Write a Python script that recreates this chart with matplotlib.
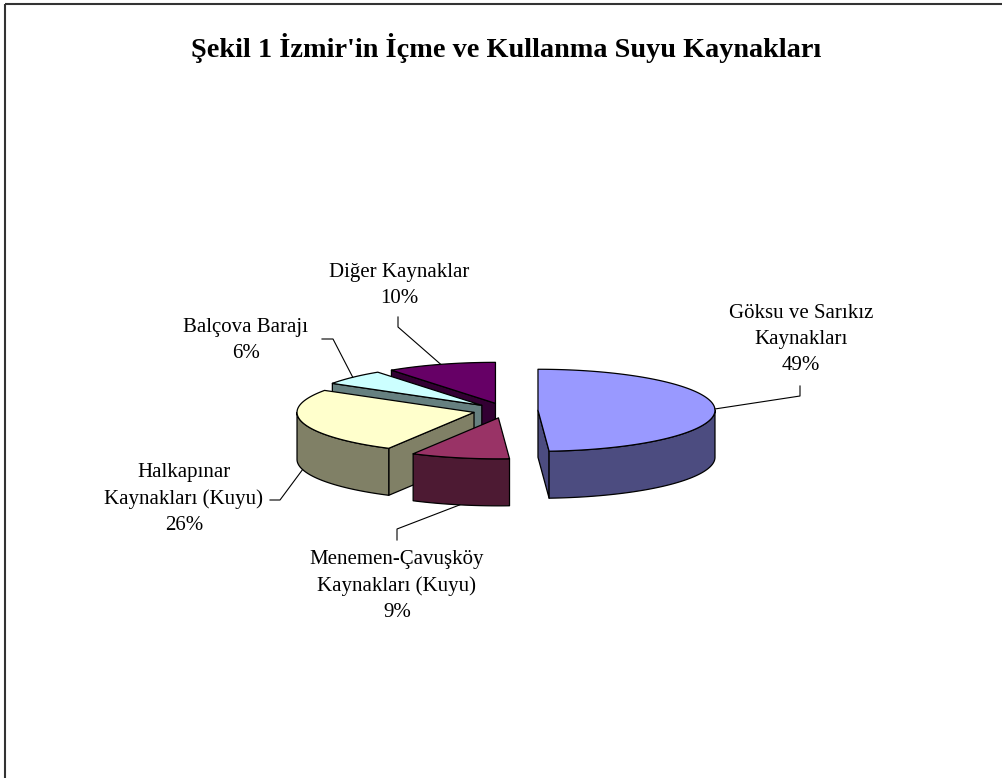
import matplotlib
matplotlib.use("Agg")
import matplotlib.pyplot as plt
from matplotlib.patches import Polygon
import numpy as np

# data
LABELS = [
    "Göksu ve Sarıkız\nKaynakları",
    "Menemen-Çavuşköy\nKaynakları (Kuyu)",
    "Halkapınar\nKaynakları (Kuyu)",
    "Balçova Barajı",
    "Diğer Kaynaklar",
]
SHARES = [49, 9, 26, 6, 10]

TOP_COLORS = ["#9999FF", "#993366", "#FFFFCC", "#CCFFFF", "#660066"]
SIDE_COLORS = ["#4C4C80", "#4D1A33", "#808066", "#668080", "#330033"]

# layout (pixels, y down)
CX, CY = 505.5, 410.5
RX, RY = 177.0, 41.0
DEPTH = 47.0
EXPLODE = 32.5

# label block centre and leader elbow points (elbow, end)
LABEL_POS = [(801, 339), (397, 586), (184, 499), (246, 340), (399, 285)]
LEADER = [
    [(800, 396), (800, 386)],
    [(397, 529), (397, 540)],
    [(280, 500), (270, 500)],
    [(333, 339), (322, 339)],
    [(398, 327), (398, 317)],
]

plt.rcParams["font.family"] = ["Liberation Serif", "DejaVu Serif"]


def ell(apex, phi_deg, dy=0.0):
    p = np.radians(phi_deg)
    return (apex[0] + RX * np.sin(p), apex[1] - RY * np.cos(p) + dy)


def draw_slice(ax, phi1, phi2, top, side):
    mid = np.radians((phi1 + phi2) / 2)
    apex = (CX + EXPLODE * np.sin(mid), CY - EXPLODE * np.cos(mid) * RY / RX)
    kw = dict(edgecolor="black", linewidth=0.9, joinstyle="round")

    # radial walls facing the viewer
    for phi, visible in ((phi1, np.sin(np.radians(phi1)) < -1e-6),
                         (phi2, np.sin(np.radians(phi2)) > 1e-6)):
        if visible:
            e = ell(apex, phi)
            pts = [apex, e, (e[0], e[1] + DEPTH), (apex[0], apex[1] + DEPTH)]
            ax.add_patch(Polygon(pts, closed=True, facecolor=side, **kw))

    # outer wall (front half of the ellipse)
    lo, hi = max(phi1, 90), min(phi2, 270)
    if hi > lo:
        angs = np.linspace(lo, hi, 120)
        upper = [ell(apex, a) for a in angs]
        lower = [ell(apex, a, DEPTH) for a in angs[::-1]]
        ax.add_patch(Polygon(upper + lower, closed=True, facecolor=side, **kw))

    # top face
    angs = np.linspace(phi1, phi2, 200)
    pts = [apex] + [ell(apex, a) for a in angs]
    ax.add_patch(Polygon(pts, closed=True, facecolor=top, **kw))

    anchor = ell(apex, np.degrees(mid), DEPTH if np.cos(mid) < 0 else 0.0)
    return anchor


def main():
    fig = plt.figure(figsize=(10.02, 7.78), dpi=100)
    ax = fig.add_axes([0, 0, 1, 1])
    ax.set_xlim(0, 1002)
    ax.set_ylim(778, 0)
    ax.axis("off")

    # chart frame (top and left edges visible)
    ax.plot([5.5, 1002], [3.5, 3.5], color="#333333", lw=1.5, solid_capstyle="butt")
    ax.plot([5.5, 5.5], [3.5, 778], color="#333333", lw=1.5, solid_capstyle="butt")

    ax.text(506, 48, "Şekil 1 İzmir'in İçme ve Kullanma Suyu Kaynakları",
            ha="center", va="center", fontsize=20.3, fontweight="bold")

    total = float(sum(SHARES))
    bounds = np.concatenate([[0], np.cumsum(SHARES)]) / total * 360.0
    mids = (bounds[:-1] + bounds[1:]) / 2
    order = np.argsort(-np.cos(np.radians(mids)))

    anchors = {}
    for i in order:
        anchors[i] = draw_slice(ax, bounds[i], bounds[i + 1], TOP_COLORS[i], SIDE_COLORS[i])

    for i, lab in enumerate(LABELS):
        pct = f"{SHARES[i] / total * 100:.0f}%"
        xs = [anchors[i][0]] + [p[0] for p in LEADER[i]]
        ys = [anchors[i][1]] + [p[1] for p in LEADER[i]]
        ax.plot(xs, ys, color="black", lw=0.8)
        ax.text(LABEL_POS[i][0], LABEL_POS[i][1], lab + "\n" + pct,
                ha="center", va="center", multialignment="center",
                fontsize=15, linespacing=1.5)

    fig.savefig("out.png", dpi=100, facecolor="white")
    plt.close(fig)


if __name__ == "__main__":
    main()
